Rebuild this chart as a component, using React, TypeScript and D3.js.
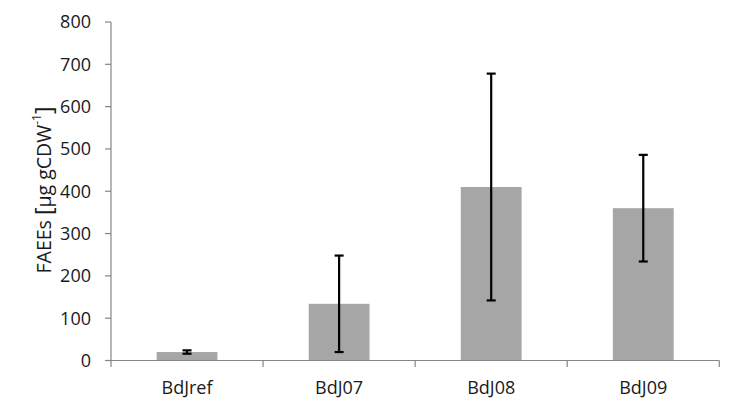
import React from "react";
import * as d3 from "d3";

const categories = ["BdJref", "BdJ07", "BdJ08", "BdJ09"];
const means = [20, 134, 410, 360];
const errors = [4, 114, 268, 126];
const yTicks = [0, 100, 200, 300, 400, 500, 600, 700, 800];

const W = 752;
const H = 409;
const left = 111;
const right = 719.3;
const top = 22;
const bottom = 360.5;
const FONT = "'Open Sans', 'Noto Sans', sans-serif";

export default function App() {
  const x = d3.scaleBand<string>().domain(categories).range([left, right]).paddingInner(0.6).paddingOuter(0.3);
  const xb = d3.scaleBand<string>().domain(categories).range([left, right]);
  const y = d3.scaleLinear().domain([0, 800]).range([bottom, top]);
  const axisColor = "#868686";
  return (
    <svg width={W} height={H} style={{ position: "absolute", left: 0, top: 0, background: "#fff" }}>
      <rect x={0} y={0} width={W} height={H} fill="#fff" />
      {categories.map((c, i) => (
        <rect key={c} x={x(c)!} y={y(means[i])} width={x.bandwidth()} height={bottom - y(means[i])} fill="#a6a6a6" />
      ))}
      {/* y axis */}
      <line x1={left} x2={left} y1={top} y2={bottom} stroke={axisColor} strokeWidth={1.2} />
      {yTicks.map((t) => (
        <g key={t}>
          <line x1={left - 6} x2={left} y1={y(t)} y2={y(t)} stroke={axisColor} strokeWidth={1.2} />
          <text x={91} y={y(t)} dy="0.36em" textAnchor="end" fontFamily={FONT} fontSize={18} fill="#1a1a1a">
            {t}
          </text>
        </g>
      ))}
      {/* x axis */}
      <line x1={left} x2={right} y1={bottom} y2={bottom} stroke={axisColor} strokeWidth={1.2} />
      {[...categories.map((c) => xb(c)!), right].map((p, i) => (
        <line key={i} x1={p} x2={p} y1={bottom} y2={bottom + 6.5} stroke={axisColor} strokeWidth={1.2} />
      ))}
      {categories.map((c) => (
        <text key={c} x={xb(c)! + xb.bandwidth() / 2} y={394} textAnchor="middle" fontFamily={FONT} fontSize={18} fill="#1a1a1a">
          {c}
        </text>
      ))}
      {/* error bars */}
      {categories.map((c, i) => {
        const cx = x(c)! + x.bandwidth() / 2;
        const y1 = y(means[i] + errors[i]);
        const y2 = y(means[i] - errors[i]);
        return (
          <g key={c} stroke="#000" strokeWidth={2.2}>
            <line x1={cx} x2={cx} y1={y1} y2={y2} />
            <line x1={cx - 4.5} x2={cx + 4.5} y1={y1} y2={y1} />
            <line x1={cx - 4.5} x2={cx + 4.5} y1={y2} y2={y2} />
          </g>
        );
      })}
      <text
        transform={`translate(43,190) rotate(-90)`}
        textAnchor="middle"
        dominantBaseline="central"
        fontFamily={FONT}
        fontSize={19.5}
        fill="#1a1a1a"
      >
        FAEEs <tspan fontSize={23}>[</tspan>µg gCDW
        <tspan fontSize={12} dy={-7}>-1</tspan>
        <tspan fontSize={23} dy={7}>]</tspan>
      </text>
    </svg>
  );
}
